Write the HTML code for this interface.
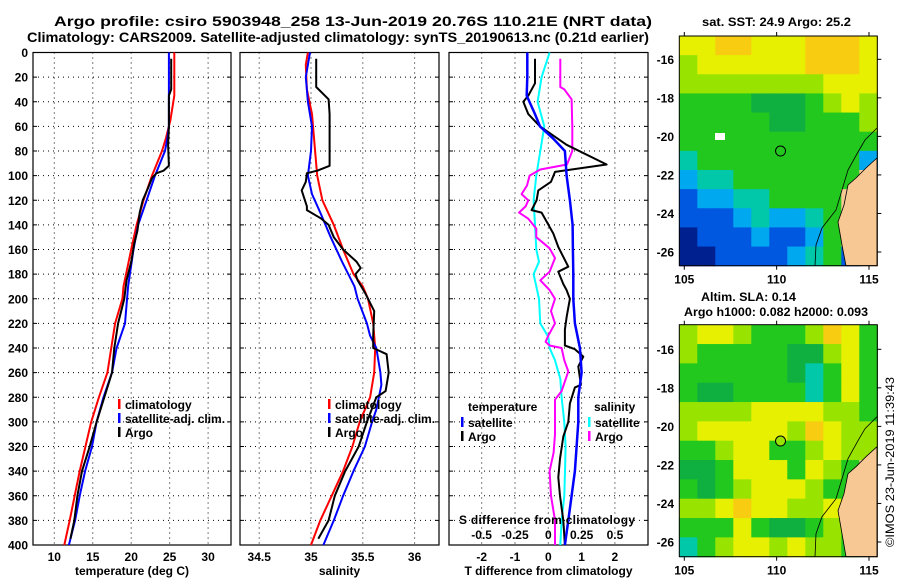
<!DOCTYPE html>
<html><head><meta charset="utf-8"><style>
html,body{margin:0;padding:0;background:#fff;}
svg{display:block;font-family:"Liberation Sans",sans-serif;font-weight:bold;}
</style></head><body>
<svg id="fig" width="900" height="580" viewBox="0 0 900 580" xmlns="http://www.w3.org/2000/svg">
<rect width="900" height="580" fill="#fff"/>
<text x="54" y="26" font-size="14" textLength="598" lengthAdjust="spacingAndGlyphs">Argo profile: csiro 5903948_258 13-Jun-2019 20.76S 110.21E (NRT data)</text>
<text x="27" y="42" font-size="14" textLength="622" lengthAdjust="spacingAndGlyphs">Climatology: CARS2009. Satellite-adjusted climatology: synTS_20190613.nc (0.21d earlier)</text>
<g id="plots"></g>
<text x="702" y="26" font-size="12" textLength="149" lengthAdjust="spacingAndGlyphs">sat. SST: 24.9 Argo: 25.2</text>
<text x="701" y="301" font-size="12" textLength="95" lengthAdjust="spacingAndGlyphs">Altim. SLA: 0.14</text>
<text x="684" y="316" font-size="12" textLength="184" lengthAdjust="spacingAndGlyphs">Argo h1000: 0.082 h2000: 0.093</text>
<text transform="translate(894,547) rotate(-90)" font-size="12" font-weight="normal" textLength="170" lengthAdjust="spacingAndGlyphs">©IMOS 23-Jun-2019 11:39:43</text>
</svg>
<script>
// ---------- data ----------
const depthTicks = [0,20,40,60,80,100,120,140,160,180,200,220,240,260,280,300,320,340,360,380,400];
const tempTicks = [10,15,20,25,30];
const salTicks = [34.5,35,35.5,36];
const tdiffTicks = [-2,-1,0,1,2];
const sdiffTicks = [-0.5,-0.25,0,0.25,0.5];
const sdiffLabels = ["-0.5","-0.25","0","0.25","0.5"];

const tClimDepth = [0,35,55,70,80,100,120,140,160,190,200,220,260,280,300,340,380,400];
const tClimVal   = [25.6,25.6,25.1,24.5,24.0,22.7,21.6,20.7,20.0,19.0,18.85,17.9,16.9,15.8,14.8,13.3,12.0,11.3];
const tSatDepth  = [0,60,70,80,100,120,140,160,190,220,240,260,280,300,320,340,360,380,400];
const tSatVal    = [24.9,24.9,24.7,24.4,23.1,22.0,20.9,20.3,19.6,19.2,18.1,17.5,16.4,15.5,14.9,14.0,13.3,12.7,11.9];
const tArgoDepth = [5,30,35,60,75,92,96,98,102,110,120,130,145,155,170,185,195,200,220,240,260,280,300,320,340,360,380,395];
const tArgoVal   = [25.2,25.2,24.9,24.9,24.8,24.9,24.2,23.3,22.7,22.2,21.5,21.1,20.8,20.4,20.0,19.4,19.2,19.1,18.3,17.8,17.5,16.5,15.5,14.6,13.6,13.0,12.6,12.1];

const sClimDepth = [0,10,30,50,80,100,120,140,160,180,190,200,220,240,260,280,300,320,340,360,380,400];
const sClimVal   = [34.97,34.95,34.96,35.01,35.04,35.06,35.11,35.22,35.31,35.41,35.50,35.55,35.60,35.62,35.61,35.57,35.47,35.40,35.31,35.20,35.09,35.00];
const sSatDepth  = [0,20,40,60,80,100,115,130,150,170,190,200,220,230,240,260,270,290,300,320,340,360,380,400];
const sSatVal    = [34.99,34.95,34.97,35.01,35.00,34.97,35.01,35.09,35.19,35.30,35.42,35.45,35.54,35.57,35.63,35.67,35.68,35.63,35.59,35.52,35.41,35.31,35.22,35.12];
const sArgoDepth = [5,28,38,50,92,96,98,105,112,117,125,128,135,140,150,160,170,175,180,185,195,210,230,240,245,260,275,280,300,320,340,360,380,395];
const sArgoVal   = [35.05,35.05,35.17,35.18,35.18,35.06,34.96,34.95,34.91,34.93,34.96,34.96,35.10,35.17,35.22,35.31,35.44,35.48,35.43,35.45,35.52,35.61,35.60,35.60,35.73,35.75,35.72,35.63,35.54,35.46,35.33,35.23,35.17,35.07];

const dtSatDepth = [0,20,35,50,60,70,80,100,120,140,160,180,200,220,240,260,280,300,320,340,360,380,400];
const dtSatVal   = [-0.63,-0.63,-0.65,-0.4,-0.25,0.15,0.5,0.55,0.65,0.73,0.74,0.75,0.75,0.8,0.95,1.0,0.9,0.9,0.85,0.8,0.7,0.6,0.5];
const dtArgoDepth = [5,25,35,40,50,60,75,91,97,105,112,120,128,130,147,158,174,178,188,193,200,215,225,238,241,247,255,270,272,285,300,312,330,345,360,380,400];
const dtArgoVal   = [-0.4,-0.4,-0.6,-0.75,-0.6,-0.25,0.55,1.75,0.2,0.08,-0.3,-0.35,-0.5,-0.2,0.15,0.3,0.6,0.3,0.45,0.55,0.65,0.55,0.5,0.5,0.8,1.05,0.9,0.98,0.8,0.65,0.6,0.45,0.35,0.3,0.35,0.45,0.5];
const dsSatDepth = [0,20,40,60,80,100,120,140,160,170,180,200,220,231,240,250,265,280,300,320,340,360,380,400];
const dsSatVal   = [0.01,-0.05,-0.08,-0.03,-0.06,-0.09,-0.11,-0.1,-0.09,-0.07,-0.11,-0.07,-0.06,0.0,0.01,0.05,0.09,0.1,0.12,0.13,0.125,0.12,0.1,0.09];
const dsArgoDepth = [5,28,30,38,60,80,91,95,100,108,115,120,125,130,135,143,150,159,167,178,185,193,200,210,220,230,235,238,240,250,259,275,282,300,310,325,340,360,380,400];
const dsArgoVal   = [0.09,0.09,0.12,0.175,0.18,0.18,0.14,-0.06,-0.14,-0.16,-0.2,-0.15,-0.17,-0.22,-0.15,-0.09,-0.09,0.01,0.05,0.01,-0.06,0.01,0.05,0.02,0.05,0.0,-0.02,0.01,0.1,0.12,0.15,0.1,0.05,0.05,0.05,0.04,0.01,0.02,0.05,0.05];

const lonTicks = [105,110,115];
const latTicks = [-16,-18,-20,-22,-24,-26];
const argoLon = 110.21, argoLat = -20.76;

const sstGrid = [
"YYOOYYYOOOY",
"LYYYYYYOOOY",
"LLLLLLLLYYY",
"GGGGDDDGLYL",
"GGGGGDDGGGL",
"GGGGGGGGGGG",
"CGGGGGGGGGB",
"BCCGGGGGGGP",
"bBBCCGGGGPP",
"bbbBCBBCGPP",
"NbbbBbbBGPP",
"NNbbbbBCGbP"];
const slaGrid = [
"LYYLGGGLOYG",
"LGGGGGDDLYG",
"GGGGGGDCGYG",
"GDDGGGGCGYG",
"LLLLYYYYLLG",
"LYYYYYLOYLL",
"GGLYYGGLYLL",
"DDGYYYGYLGP",
"GDGLYYYLGGP",
"LLYOYYLLYGP",
"GGGYGDDGLGP",
"CGLYYLYLLGP"];
const palette = {Y:"#e6f000",O:"#f8cc10",L:"#98e400",G:"#22c81e",D:"#10b040",C:"#00c8a8",B:"#00a8f0",b:"#0058e0",N:"#002090",P:"#f8c894"};

// ---------- geometry ----------
const NS = "http://www.w3.org/2000/svg";
const root = document.getElementById('plots');
const yTop = 52.5, yBot = 545;
const yD = d => yTop + d*(yBot-yTop)/400;
const xT = t => 54.3 + (t-10)*7.69;
const xS = s => 311 + (s-35)*103.6;
const xDT = t => 548.3 + t*33.3;
const xDS = s => 548.3 + s*133.3;
const lonX = l => 684.3 + (l-105)*18.47;
const lat1Y = l => 59.3 + (-16-l)*19.27;
const lat2Y = l => 349.3 + (-16-l)*19.27;

function el(tag, attrs, parent){
  const e = document.createElementNS(NS, tag);
  for (const k in attrs) e.setAttribute(k, attrs[k]);
  (parent||root).appendChild(e);
  return e;
}
function txt(x,y,s,size,anchor,parent){
  const t = el('text',{x:x,y:y,'font-size':size,'text-anchor':anchor||'start'},parent);
  t.textContent = s;
  return t;
}

function panel(name, x0, x1, vTicks, xfn, tickLabels, title){
  const g = el('g',{});
  
  
  depthTicks.forEach(d=>{
    if(d>0 && d<400){
      const l = el('line',{x1:x0,x2:x1,y1:yD(d),y2:yD(d),stroke:'#000','stroke-width':1,'stroke-dasharray':'1,4'},g);
      
      
    }
    el('line',{x1:x0,x2:x0+4,y1:yD(d),y2:yD(d),stroke:'#000'},g);
    el('line',{x1:x1-4,x2:x1,y1:yD(d),y2:yD(d),stroke:'#000'},g);
  });
  vTicks.forEach((v,i)=>{
    const l = el('line',{x1:xfn(v),x2:xfn(v),y1:yTop,y2:yBot,stroke:'#000','stroke-width':1,'stroke-dasharray':'1,4'},g);
    
    
    if(tickLabels){
      const t = txt(xfn(v), 561, tickLabels[i], 12, 'middle', g);
      
      
    }
  });
  const r = el('rect',{x:x0,y:yTop,width:x1-x0,height:yBot-yTop,fill:'none',stroke:'#000','stroke-width':1.2},g);
  
  
  const tt = txt((x0+x1)/2, 575, title, 12, 'middle', g);
  
  
  return g;
}
function series(g, depths, vals, xfn, color, w, name){
  const pts = depths.map((d,i)=>xfn(vals[i]).toFixed(1)+','+yD(d).toFixed(1)).join(' ');
  const p = el('polyline',{points:pts,fill:'none',stroke:color,'stroke-width':w,'stroke-linejoin':'round'},g);
  
  
}
function legendEntry(g, x, y, color, label){
  const b = el('rect',{x:x,y:y-8,width:2.5,height:10,fill:color},g);
  
  
  const t = txt(x+7, y+2, label, 12, 'start', g);
  
  
}

// depth labels
depthTicks.forEach(d=>{
  const t = txt(28, yD(d)+4.5, String(d), 12, 'end');
  
  
});

// panel 1: temperature
const g1 = panel('temperature-panel', 33, 231, tempTicks, xT, tempTicks.map(String), 'temperature (deg C)');
series(g1, tClimDepth, tClimVal, xT, '#ff0000', 2, 'temp-climatology-line');
series(g1, tSatDepth, tSatVal, xT, '#0000ff', 2, 'temp-satellite-line');
series(g1, tArgoDepth, tArgoVal, xT, '#000000', 2, 'temp-argo-line');
legendEntry(g1, 118, 407, '#ff0000', 'climatology');
legendEntry(g1, 118, 421, '#0000ff', 'satellite-adj. clim.');
legendEntry(g1, 118, 435, '#000000', 'Argo');

// panel 2: salinity
const g2 = panel('salinity-panel', 240, 439, salTicks, xS, salTicks.map(String), 'salinity');
series(g2, sClimDepth, sClimVal, xS, '#ff0000', 2, 'sal-climatology-line');
series(g2, sSatDepth, sSatVal, xS, '#0000ff', 2, 'sal-satellite-line');
series(g2, sArgoDepth, sArgoVal, xS, '#000000', 2, 'sal-argo-line');
legendEntry(g2, 328, 407, '#ff0000', 'climatology');
legendEntry(g2, 328, 421, '#0000ff', 'satellite-adj. clim.');
legendEntry(g2, 328, 435, '#000000', 'Argo');

// panel 3: differences
const g3 = panel('difference-panel', 449, 648, tdiffTicks, xDT, tdiffTicks.map(String), 'T difference from climatology');
series(g3, dsSatDepth, dsSatVal, xDS, '#00ffff', 2, 'sdiff-satellite-line');
series(g3, dsArgoDepth, dsArgoVal, xDS, '#ff00ff', 2, 'sdiff-argo-line');
series(g3, dtArgoDepth, dtArgoVal, xDT, '#000000', 2, 'tdiff-argo-line');
series(g3, dtSatDepth, dtSatVal, xDT, '#0000ff', 2.5, 'tdiff-satellite-line');
const lt = txt(468, 411, 'temperature', 12, 'start', g3);


const ls = txt(594, 411, 'salinity', 12, 'start', g3);


legendEntry(g3, 461, 425, '#0000ff', 'satellite');
legendEntry(g3, 461, 439, '#000000', 'Argo');
legendEntry(g3, 588, 425, '#00ffff', 'satellite');
legendEntry(g3, 588, 439, '#ff00ff', 'Argo');
const st = txt(459, 524, 'S difference from climatology', 12, 'start', g3);
st.setAttribute('textLength','176');


sdiffTicks.forEach((v,i)=>{
  const t = txt(xDS(v), 539, sdiffLabels[i], 12, 'middle', g3);
  
  
});

// maps
function drawMap(name, grid, top, bottom, latY, circleFill){
  const g = el('g',{});
  
  
  const x0 = 679.3, x1 = 877.3;
  const rows = grid.length, cols = grid[0].length;
  const cw = (x1-x0)/cols, ch = (bottom-top)/rows;
  grid.forEach((row,r)=>{
    for(let c=0;c<cols;c++){
      const cell = el('rect',{x:(x0+c*cw).toFixed(2),y:(top+r*ch).toFixed(2),width:(cw+0.6).toFixed(2),height:(ch+0.6).toFixed(2),fill:palette[row[c]]},g);
      
      
    }
  });
  const off = top-36;
  const coast = el('polyline',{points:`877,${128+off} 865,${140+off} 858,${152+off} 848,${170+off} 842,${190+off} 836,${210+off} 822,${228+off} 816,${245+off} 815,${bottom}`,fill:'none',stroke:'#000','stroke-width':0.8},g);
  
  
  const land = el('polygon',{points:`877,${158+off} 866,${168+off} 856,${178+off} 848,${185+off} 844,${205+off} 838,${222+off} 842,${245+off} 846,${bottom} 877,${bottom}`,fill:'#f8c894',stroke:'#000','stroke-width':0.8},g);
  
  
  const fr = el('rect',{x:x0,y:top,width:x1-x0,height:bottom-top,fill:'none',stroke:'#000','stroke-width':1},g);
  
  
  lonTicks.forEach(l=>{
    el('line',{x1:lonX(l),x2:lonX(l),y1:top-4,y2:top,stroke:'#000'},g);
    el('line',{x1:lonX(l),x2:lonX(l),y1:bottom,y2:bottom+4,stroke:'#000'},g);
    const t = txt(lonX(l), bottom+18, String(l), 12, 'middle', g);
    
    
  });
  latTicks.forEach(l=>{
    el('line',{x1:x1,x2:x1+4,y1:latY(l),y2:latY(l),stroke:'#000'},g);
    const t = txt(674, latY(l)+4.5, String(l), 12, 'end', g);
    
    
  });
  const c = el('circle',{cx:lonX(argoLon),cy:latY(argoLat),r:5,fill:circleFill,stroke:'#000','stroke-width':1},g);
  
  
}
drawMap('sst-map', sstGrid, 36, 265.7, lat1Y, 'none');
drawMap('sla-map', slaGrid, 324.7, 556.7, lat2Y, '#98e400');
// white missing-data patch in SST map
const wp = el('rect',{x:715,y:133,width:10,height:7,fill:'#fff'});


</script>
</body></html>
